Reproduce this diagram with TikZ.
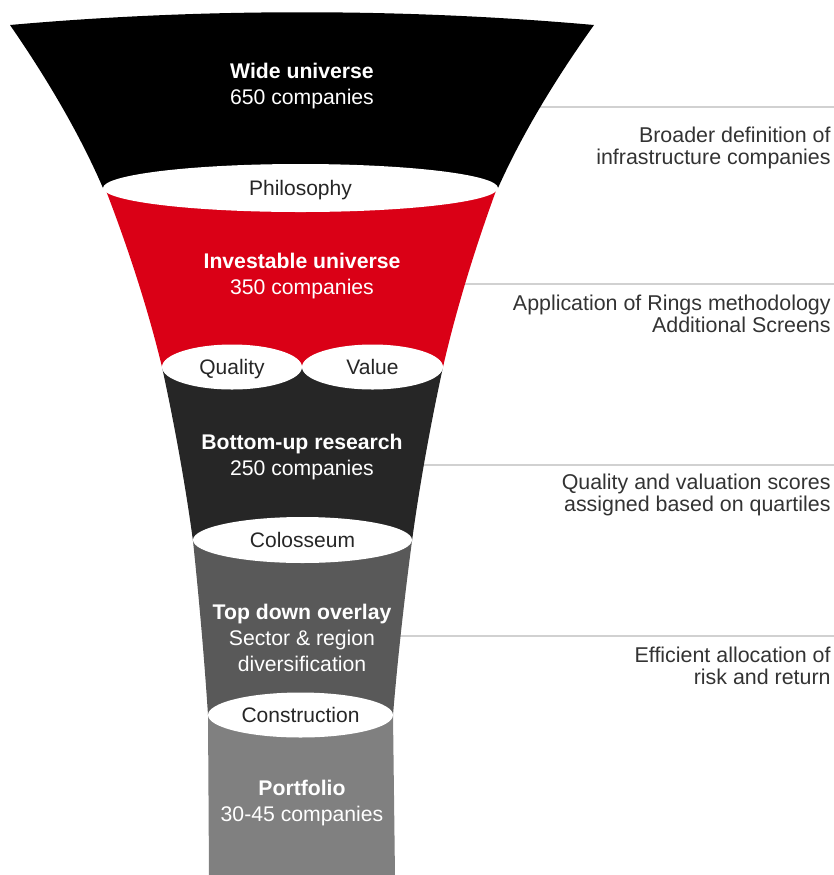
\documentclass[tikz,border=0pt]{standalone}
\usepackage{fontspec}
\setmainfont{Liberation Sans}
\usetikzlibrary{shapes.geometric}
\definecolor{funnelred}{HTML}{DA0016}
\definecolor{funneldark}{HTML}{262626}
\definecolor{funnelmid}{HTML}{595959}
\definecolor{funnellight}{HTML}{808080}
\tikzset{
  stage/.style={text=white, align=center, inner sep=0pt, font=\fontsize{10.6}{13}\selectfont},
  gate/.style={ellipse, fill=white, inner sep=0pt, text height=7.6pt, text depth=0pt, text=black!85, font=\fontsize{10.5}{13}\selectfont},
  note/.style={anchor=east, align=right, inner sep=0pt, text=black!80, font=\fontsize{10.7}{11}\selectfont},
  divider/.style={draw=black!18, line width=0.75pt}
}
\begin{document}
\begin{tikzpicture}[x=0.5pt,y=-0.5pt]
    \useasboundingbox (0,0) rectangle (834,875);
    \coordinate (d1) at (302,107); \coordinate (d1e) at (834,107);
    \coordinate (d2) at (302,284); \coordinate (d2e) at (834,284);
    \coordinate (d3) at (302,465); \coordinate (d3e) at (834,465);
    \coordinate (d4) at (302,636); \coordinate (d4e) at (834,636);
    \draw[divider] (d1) -- (d1e);
    \draw[divider] (d2) -- (d2e);
    \draw[divider] (d3) -- (d3e);
    \draw[divider] (d4) -- (d4e);
    \fill[black] (10,25) .. controls (200,8) and (404,8) .. (594,25) .. controls (555.6,78.8) and (522,134.2) .. (498,188) -- (103,188) .. controls (79.75,134.2) and (47.2,78.8) .. (10,25) -- cycle;
    \fill[funnelred] (105,188) -- (497,188) .. controls (475.4,247) and (456.5,308) .. (443,367) -- (162,367) .. controls (147.75,308) and (127.8,247) .. (105,188) -- cycle;
    \fill[funneldark] (162,367) -- (443,367) .. controls (430.6,424.4) and (419.75,483.6) .. (412,541) -- (193,541) .. controls (185.25,483.6) and (174.4,424.4) .. (162,367) -- cycle;
    \fill[funnelmid] (193,541) -- (412,541) .. controls (404.4,598.4) and (397.75,657.6) .. (393,715) -- (208,715) .. controls (204.25,657.6) and (199,598.4) .. (193,541) -- cycle;
    \fill[funnellight] (208,715) -- (393,715) -- (395,876) -- (209,876) -- cycle;
    \node[gate, minimum width=197.5pt, minimum height=24pt] (philosophy) at (300.5,188) {Philosophy};
    \node[gate, minimum width=70pt, minimum height=22.5pt] (quality) at (232,367) {Quality};
    \node[gate, minimum width=70.5pt, minimum height=22.5pt] (value) at (372.5,367) {Value};
    \node[gate, minimum width=109.5pt, minimum height=23pt] (colosseum) at (302.5,540) {Colosseum};
    \node[gate, minimum width=92.5pt, minimum height=22.5pt] (construction) at (300.5,715) {Construction};
    \node[stage] (wide) at (302,86) {\textbf{Wide universe}\\650 companies};
    \node[stage] (investable) at (302,276) {\textbf{Investable universe}\\350 companies};
    \node[stage] (bottomup) at (302,457) {\textbf{Bottom-up research}\\250 companies};
    \node[stage] (topdown) at (302,638) {\textbf{Top down overlay}\\Sector \& region\\diversification};
    \node[stage] (portfolio) at (302,803) {\textbf{Portfolio}\\30-45 companies};
    \node[note] (broader) at (831,148) {Broader definition of\\infrastructure companies};
    \node[note] (rings) at (831,314) {Application of Rings methodology\\Additional Screens};
    \node[note] (scores) at (831,494.5) {Quality and valuation scores\\assigned based on quartiles};
    \node[note] (allocation) at (831,666) {Efficient allocation of\\risk and return};
\end{tikzpicture}
\end{document}
